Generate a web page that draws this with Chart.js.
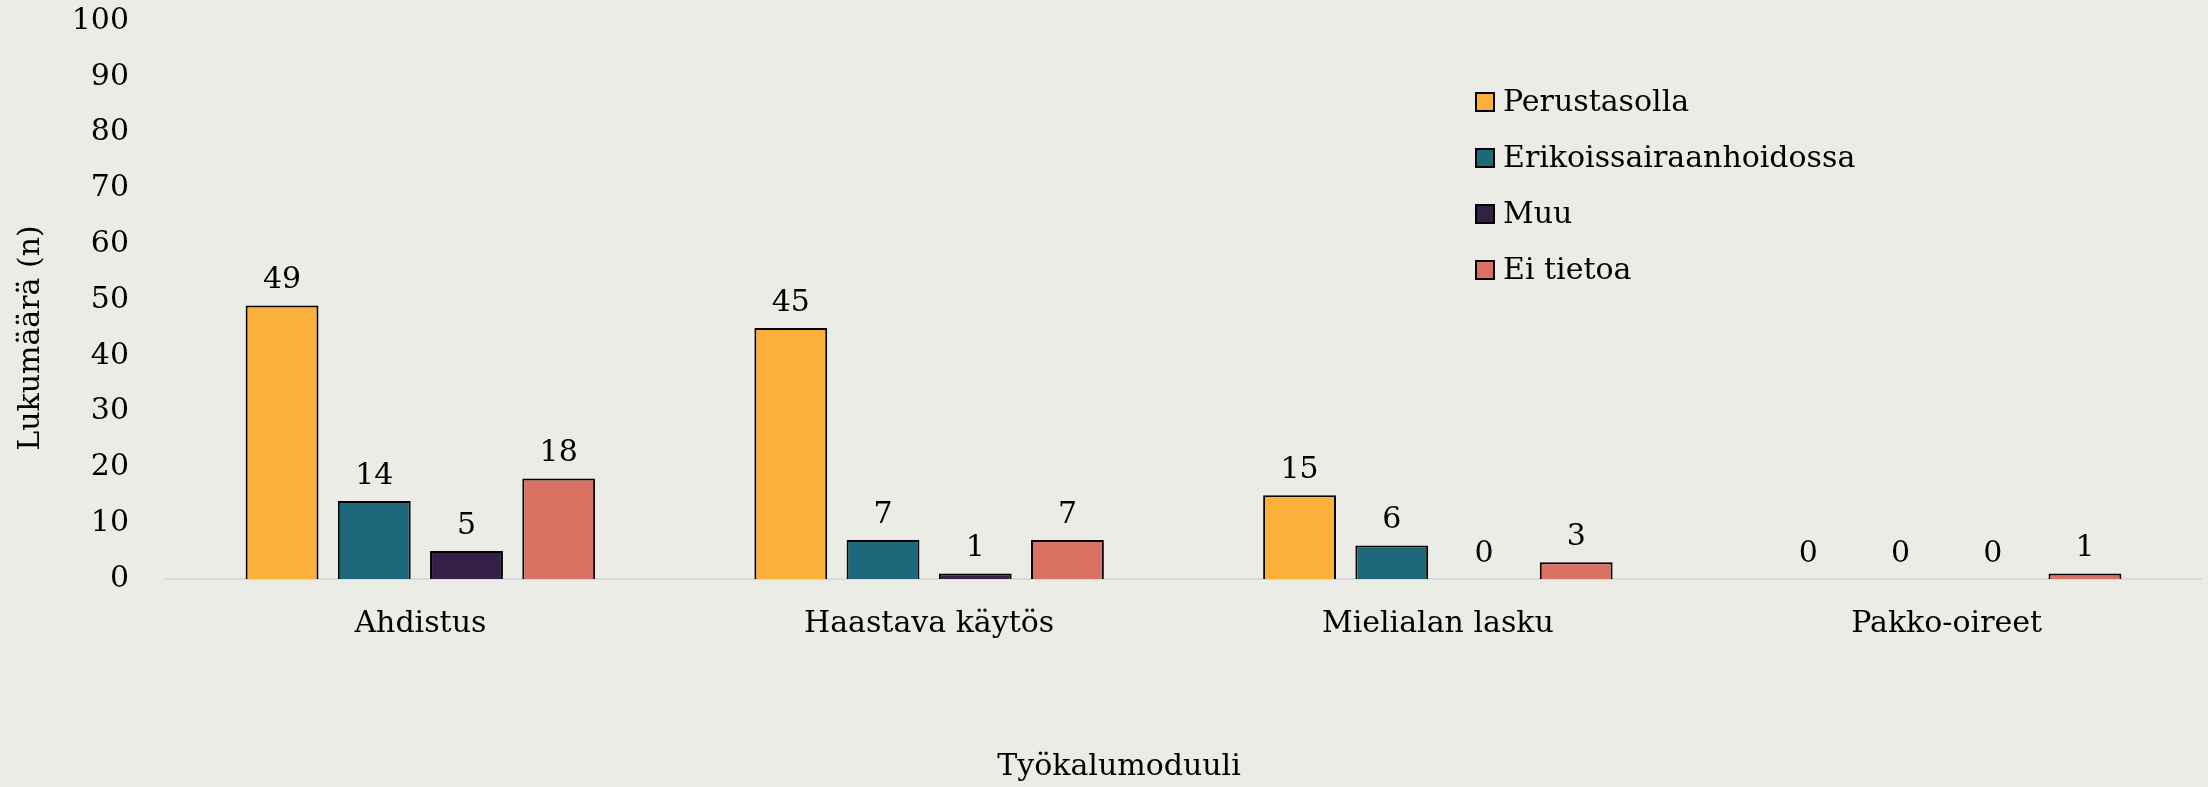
<!DOCTYPE html>
<html>
<head>
<meta charset="utf-8">
<script src="https://cdn.jsdelivr.net/npm/chart.js@4/dist/chart.umd.min.js"></script>
<style>
  html, body { margin: 0; padding: 0; background: #ECECE6; overflow: hidden; }
  #wrap { width: 2208px; height: 787px; position: relative; }
</style>
</head>
<body>
<div id="wrap"><canvas id="chart"></canvas></div>
<script>
// kategoriat ja sarjat
const categories = ['Ahdistus', 'Haastava käytös', 'Mielialan lasku', 'Pakko-oireet'];
const seriesNames = ['Perustasolla', 'Erikoissairaanhoidossa', 'Muu', 'Ei tietoa'];
const perustasolla = [49, 45, 15, 0];
const erikoissairaanhoidossa = [14, 7, 6, 0];
const muu = [5, 1, 0, 0];
const eiTietoa = [18, 7, 3, 1];
const yTicks = [0, 10, 20, 30, 40, 50, 60, 70, 80, 90, 100];

const colors = ['#FBB03B', '#1D687B', '#341F45', '#D97262'];
const FONT = '"DejaVu Serif", "Liberation Serif", serif';
const FS = 30;

const seriesData = [perustasolla, erikoissairaanhoidossa, muu, eiTietoa];

// arvot pylväiden yläpuolelle, selite ja akselien otsikot
const overlayPlugin = {
    id: 'overlay',
    afterDatasetsDraw(chart) {
        const ctx = chart.ctx;
        ctx.save();
        ctx.fillStyle = '#000';
        ctx.font = FS + 'px ' + FONT;
        ctx.textAlign = 'center';
        ctx.textBaseline = 'middle';
        chart.data.datasets.forEach((ds, i) => {
            chart.getDatasetMeta(i).data.forEach((bar, j) => {
                ctx.fillText(ds.data[j], bar.x, bar.y - 25);
            });
        });

        // selite
        const rows = [102, 158, 214, 270];
        ctx.textAlign = 'left';
        chart.data.datasets.forEach((ds, i) => {
            const y = rows[i];
            ctx.fillStyle = ds.backgroundColor;
            ctx.fillRect(1476, y - 9, 18, 18);
            ctx.strokeStyle = '#000';
            ctx.lineWidth = 2;
            ctx.strokeRect(1476, y - 9, 18, 18);
            ctx.fillStyle = '#000';
            ctx.fillText(ds.label, 1503, y + 1);
        });

        // akselien otsikot
        ctx.textAlign = 'center';
        ctx.fillText('Työkalumoduuli', 1119, 767);
        ctx.translate(31, 338);
        ctx.rotate(-Math.PI / 2);
        ctx.fillText('Lukumäärä (n)', 0, 0);
        ctx.restore();
    }
};

new Chart(document.getElementById('chart'), {
    type: 'bar',
    data: {
        labels: categories,
        datasets: seriesNames.map((name, i) => ({
            label: name,
            data: seriesData[i],
            backgroundColor: colors[i],
            borderColor: '#000',
            borderWidth: 2,
            categoryPercentage: 0.725,
            barPercentage: 0.79
        }))
    },
    options: {
        responsive: true,
        maintainAspectRatio: false,
        animation: false,
        layout: { autoPadding: false, padding: { top: 21, right: 7, left: 0, bottom: 0 } },
        plugins: {
            legend: { display: false },
            tooltip: { enabled: false }
        },
        scales: {
            x: {
                grid: { display: false },
                border: { color: '#D9D9D9', width: 2 },
                ticks: { color: '#000', font: { family: FONT, size: FS }, padding: 19 },
                afterFit(scale) {
                    scale.height = 208;
                    scale.paddingTop = scale.paddingBottom = scale.paddingLeft = scale.paddingRight = 0;
                }
            },
            y: {
                min: 0,
                max: 100,
                grid: { display: false },
                border: { display: false },
                afterBuildTicks(scale) { scale.ticks = yTicks.map(v => ({ value: v })); },
                ticks: { color: '#000', font: { family: FONT, size: FS }, padding: 29 },
                afterFit(scale) {
                    scale.width = 166;
                    scale.paddingTop = scale.paddingBottom = scale.paddingLeft = scale.paddingRight = 0;
                }
            }
        }
    },
    plugins: [overlayPlugin]
});
</script>
</body>
</html>
